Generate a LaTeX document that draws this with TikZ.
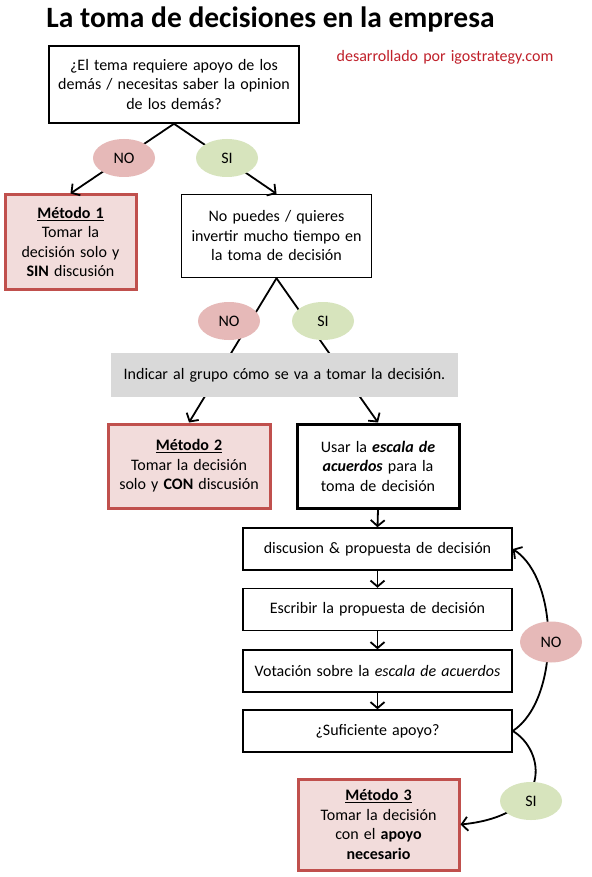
\documentclass[tikz,border=0pt]{standalone}
\usepackage{fontspec}
\setmainfont{Carlito}
\usetikzlibrary{arrows.meta,shapes.geometric}
\definecolor{pinkfill}{HTML}{F2DCDB}
\definecolor{pinkborder}{HTML}{C0504D}
\definecolor{noell}{HTML}{E6B9B8}
\definecolor{siell}{HTML}{D7E4BD}
\definecolor{graybar}{HTML}{D9D9D9}
\definecolor{redtext}{HTML}{C0202A}
\newcommand{\wsp}{\spaceskip=0.32em plus 0.1em minus 0.05em\relax}
\begin{document}
\begin{tikzpicture}[x=1pt,y=-1pt,
  every node/.style={font=\fontsize{16}{19.5}\selectfont\wsp, align=center, inner sep=0pt},
  metbox/.style={draw=pinkborder, fill=pinkfill, line width=3pt},
  ellno/.style={ellipse, fill=noell, minimum width=62pt, minimum height=38pt},
  ellsi/.style={ellipse, fill=siell, minimum width=62pt, minimum height=38pt},
  conn/.style={draw=black, line width=1.8pt, -{Straight Barb[length=6pt,width=14pt,line width=1.8pt]}}
]
\useasboundingbox (0,0) rectangle (591,877);
\fill[white] (0,0) rectangle (591,877);

\node[anchor=base, font=\fontsize{29.5}{32}\selectfont\bfseries] (title) at (270.5,28) {La toma de decisiones en la empresa};
\node[text=redtext] (credit) at (445,57) {desarrollado por igostrategy.com};

\node[draw=black, line width=1.5pt, minimum width=250pt, minimum height=77pt] (b1) at (174,84.5)
  {¿El tema requiere apoyo de los\\demás / necesitas saber la opinion\\de los demás?};

\node[metbox, minimum width=131pt, minimum height=94pt] (m1) at (70.5,242)
  {\underline{\textbf{Método 1}}\\Tomar la\\decisión solo y\\\textbf{SIN} discusión};

\node[draw=black, line width=1.5pt, minimum width=190pt, minimum height=83pt] (b2) at (276.5,236)
  {No puedes / quieres\\invertir mucho tiempo en\\la toma de decisión};

\node[metbox, minimum width=162pt, minimum height=84pt] (m2) at (189,466)
  {\underline{\textbf{Método 2}}\\Tomar la decisión\\solo y \textbf{CON} discusión};

\node[draw=black, line width=3pt, minimum width=162pt, minimum height=84pt] (esc) at (378,466)
  {Usar la \textbf{\textit{escala de}}\\\textbf{\textit{acuerdos}} para la\\toma de decisión};

\node[draw=black, line width=1.5pt, minimum width=269pt, minimum height=42pt] (dis) at (377.5,549)
  {discusion \& propuesta de decisión};
\node[draw=black, line width=1.5pt, minimum width=269pt, minimum height=42pt] (esb) at (377.5,609.5)
  {Escribir la propuesta de decisión};
\node[draw=black, line width=1.5pt, minimum width=269pt, minimum height=42pt] (vot) at (377.5,671)
  {Votación sobre la \textit{escala de acuerdos}};
\node[draw=black, line width=1.5pt, minimum width=269pt, minimum height=42pt] (suf) at (377.5,731)
  {¿Suficiente apoyo?};

\node[metbox, minimum width=161pt, minimum height=91pt] (m3) at (378.5,824.5)
  {\underline{\textbf{Método 3}}\\Tomar la decisión\\con el \textbf{apoyo}\\\textbf{necesario}};

% connectors
\draw[conn] (b1.south) -- (m1.north);
\draw[conn] (b1.south) -- (b2.north);
\draw[conn] (b2.south) -- (m2.north);
\draw[conn] (b2.south) -- (esc.north);
\draw[conn] (esc.south) -- (dis.north);
\draw[conn] (dis.south) -- (esb.north);
\draw[conn] (esb.south) -- (vot.north);
\draw[conn] (vot.south) -- (suf.north);
\draw[conn] (suf.east) .. controls (560,700) and (560,580) .. (dis.east);
\draw[conn] (suf.east) .. controls (545,750) and (555,815) .. (m3.east);

% labels
\node[ellno] (no1) at (124,158) {NO};
\node[ellsi] (si1) at (227,158) {SI};
\node[ellno] (no2) at (229,321) {NO};
\node[ellsi] (si2) at (323,321) {SI};
\node[ellno, minimum height=41pt] (no3) at (551,642) {NO};
\node[ellsi] (si3) at (531,801) {SI};

\node[fill=graybar, minimum width=347pt, minimum height=44pt] (gray) at (284.5,375)
  {Indicar al grupo cómo se va a tomar la decisión.};
\end{tikzpicture}
\end{document}
